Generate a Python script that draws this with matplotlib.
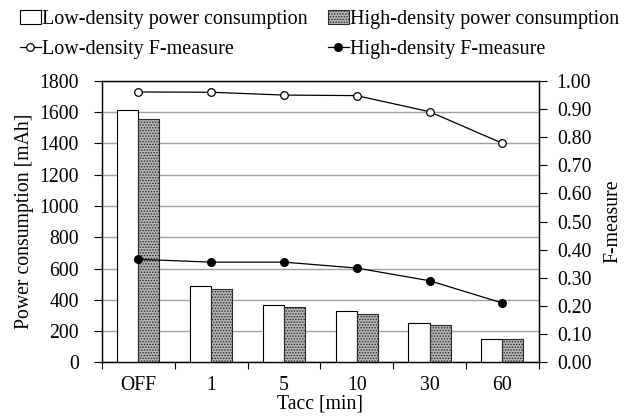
import matplotlib
matplotlib.use("Agg")
import matplotlib.pyplot as plt
import numpy as np
from matplotlib.ticker import FormatStrFormatter

categories = ["OFF", "1", "5", "10", "30", "60"]
low_power = [1613, 488, 365, 326, 250, 151]
high_power = [1557, 469, 352, 311, 239, 147]
low_f = [0.960, 0.959, 0.949, 0.947, 0.890, 0.778]
high_f = [0.366, 0.356, 0.356, 0.335, 0.290, 0.211]

plt.rcParams['font.family'] = ['Liberation Serif', 'DejaVu Serif']
plt.rcParams['font.size'] = 14.2
plt.rcParams['hatch.linewidth'] = 0.7

fig = plt.figure(figsize=(6.43, 4.19), dpi=100)
ax = fig.add_axes([0.1586, 0.135, 0.8378 - 0.1586, 0.8074 - 0.135])

x = np.arange(len(categories))
w = 0.29
b1 = ax.bar(x - w / 2, low_power, w, facecolor='white', edgecolor='black', linewidth=0.8, zorder=3,
            label='Low-density power consumption')
b2 = ax.bar(x + w / 2, high_power, w, facecolor='#b4b4b4', edgecolor='#2a2a2a', hatch='......',
            linewidth=0.8, zorder=3, label='High-density power consumption')

ax.set_xlim(-0.5, len(categories) - 0.5)
ax.set_ylim(0, 1800)
ax.set_yticks(np.arange(0, 1801, 200))
ax.yaxis.grid(True, color='#a0a0a0', linewidth=1.0, zorder=0)
ax.set_axisbelow(True)
ax.set_xticks(x)
ax.set_xticklabels(categories)
ax.set_xticks(np.arange(-0.5, len(categories), 1.0), minor=True)
ax.tick_params(axis='x', which='major', length=0, pad=9.5)
ax.tick_params(axis='x', which='minor', length=5, direction='out', width=0.8)
ax.tick_params(axis='y', length=6, direction='out', width=0.8, pad=10.5)
ax.set_ylabel('Power consumption [mAh]', labelpad=4)
ax.set_xlabel('Tacc [min]', labelpad=0)
for s in ax.spines.values():
    s.set_linewidth(0.9)

ax2 = ax.twinx()
ax2.set_ylim(0, 1.0)
ax2.set_yticks(np.arange(0, 1.001, 0.1))
ax2.yaxis.set_major_formatter(FormatStrFormatter('%.2f'))
ax2.tick_params(axis='y', length=6, direction='out', width=0.8, pad=7)
l1, = ax2.plot(x, low_f, color='black', linewidth=0.9, marker='o', markersize=5.5,
               markerfacecolor='white', markeredgecolor='black', markeredgewidth=0.9,
               label='Low-density F-measure', zorder=4)
l2, = ax2.plot(x, high_f, color='black', linewidth=0.9, marker='o', markersize=5.5,
               markerfacecolor='black', markeredgecolor='black',
               label='High-density F-measure', zorder=4)
ax2.set_ylabel('F-measure', labelpad=8.5)
for s in ax2.spines.values():
    s.set_linewidth(0.9)

fig.legend([b1, l1, b2, l2],
           [b1.get_label(), l1.get_label(), b2.get_label(), l2.get_label()],
           loc='upper left', bbox_to_anchor=(0.012, 1.005), ncol=2, frameon=False,
           handlelength=1.05, handletextpad=0.05, columnspacing=1.0, labelspacing=0.55,
           borderaxespad=0.2, fontsize=14.5)

fig.savefig('out.png', dpi=100)
